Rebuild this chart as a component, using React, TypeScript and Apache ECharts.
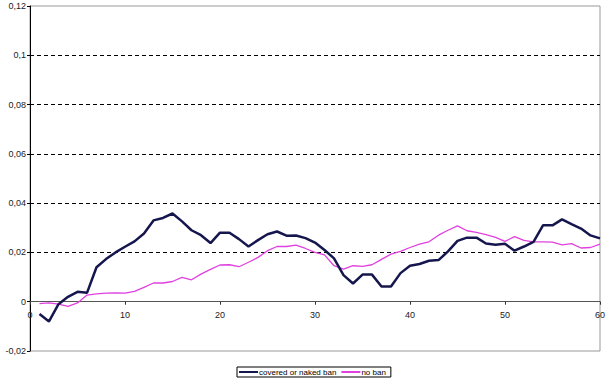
import React, { useEffect, useRef } from "react";
import * as echarts from "echarts";

const periods: number[] = Array.from({ length: 60 }, (_, i) => i + 1);

const coveredOrNakedBan: number[] = [
  -0.005, -0.008, -0.001, 0.002, 0.004, 0.0036, 0.014, 0.0173, 0.02, 0.0223,
  0.0245, 0.0277, 0.033, 0.034, 0.0358, 0.0326, 0.029, 0.027, 0.0238, 0.028,
  0.028, 0.0254, 0.0224, 0.025, 0.0274, 0.0285, 0.0268, 0.0269, 0.0258, 0.024,
  0.021, 0.0176, 0.0108, 0.0074, 0.011, 0.011, 0.0062, 0.0062, 0.0116, 0.0146,
  0.0153, 0.0166, 0.0169, 0.0204, 0.0247, 0.026, 0.026, 0.0236, 0.0231, 0.0235,
  0.0207, 0.0224, 0.0243, 0.031, 0.031, 0.0334, 0.0315, 0.0297, 0.0269, 0.0257,
];

const noBan: number[] = [
  -0.0008, -0.0005, -0.001, -0.0019, -0.0005, 0.0027, 0.0032, 0.0035, 0.0036, 0.0035,
  0.0042, 0.0058, 0.0076, 0.0076, 0.0082, 0.0099, 0.0089, 0.0112, 0.0131, 0.0149,
  0.015, 0.0142, 0.016, 0.018, 0.0207, 0.0224, 0.0224, 0.023, 0.0216, 0.02,
  0.019, 0.0146, 0.0132, 0.0146, 0.0143, 0.015, 0.0172, 0.0193, 0.0204, 0.022,
  0.0234, 0.0243, 0.027, 0.029, 0.0308, 0.0288, 0.0281, 0.0272, 0.0261, 0.0245,
  0.0264, 0.0249, 0.0243, 0.0243, 0.0242, 0.0231, 0.0236, 0.0218, 0.022, 0.0234,
];

const seriesNames: string[] = ["covered or naked ban", "no ban"];

const Y_MIN = -0.02;
const Y_MAX = 0.12;
const GRID_TOP = 6;
const GRID_BOTTOM = 35;
const HEIGHT = 386;

export default function App() {
  const ref = useRef<HTMLDivElement>(null);
  useEffect(() => {
    if (!ref.current) return;
    const chart = echarts.init(ref.current, undefined, { renderer: "svg" });
    const font = "Liberation Sans, Arial, sans-serif";
    const plotH = HEIGHT - GRID_TOP - GRID_BOTTOM;
    const zeroOffset = -((0 - Y_MIN) / (Y_MAX - Y_MIN)) * plotH;
    chart.setOption({
      animation: false,
      backgroundColor: "#ffffff",
      grid: {
        left: 30,
        right: 9,
        top: GRID_TOP,
        bottom: GRID_BOTTOM,
        show: true,
        borderColor: "#999999",
        borderWidth: 1,
        containLabel: false,
      },
      legend: {
        data: seriesNames.map((n) => ({ name: n, itemStyle: { opacity: 0 } })),
        left: 237,
        top: 367,
        padding: [1, 5, 1, 1],
        borderColor: "#000000",
        borderWidth: 1,
        itemWidth: 19,
        itemHeight: 8,
        itemGap: 4,
        textStyle: { fontSize: 8, fontFamily: font, color: "#000", padding: [0, 0, 0, -4] },
      },
      xAxis: {
        type: "value",
        position: "bottom",
        min: 0,
        max: 60,
        interval: 10,
        offset: zeroOffset,
        axisLine: { onZero: false, lineStyle: { color: "#555555", width: 1 } },
        axisTick: { show: true, length: 3, inside: false, lineStyle: { color: "#333" } },
        axisLabel: { fontSize: 9, fontFamily: font, color: "#222", margin: 9 },
        splitLine: { show: false },
      },
      yAxis: {
        type: "value",
        min: Y_MIN,
        max: Y_MAX,
        interval: 0.02,
        axisLine: { show: true, onZero: false, lineStyle: { color: "#000", width: 1 } },
        axisTick: { show: true, length: 3, lineStyle: { color: "#000" } },
        axisLabel: {
          fontSize: 9,
          fontFamily: font,
          color: "#222",
          margin: 4,
          formatter: (v: number) => parseFloat(v.toFixed(4)).toString().replace(".", ","),
        },
        splitLine: {
          show: true,
          lineStyle: {
            type: [4, 3],
            width: 1,
            color: [
              "rgba(0,0,0,0)",
              "rgba(0,0,0,0)",
              "#000",
              "#000",
              "#000",
              "#000",
              "#000",
              "rgba(0,0,0,0)",
            ],
          },
        },
      },
      series: [
        {
          name: seriesNames[0],
          type: "line",
          data: periods.map((p, i) => [p, coveredOrNakedBan[i]]),
          symbol: "none",
          lineStyle: { color: "#16164f", width: 2.5 },
          itemStyle: { color: "#16164f" },
          z: 3,
        },
        {
          name: seriesNames[1],
          type: "line",
          data: periods.map((p, i) => [p, noBan[i]]),
          symbol: "none",
          lineStyle: { color: "#e040e0", width: 1.3 },
          itemStyle: { color: "#e040e0" },
          z: 2,
        },
      ],
    });
    return () => chart.dispose();
  }, []);
  return (
    <div
      ref={ref}
      style={{ position: "fixed", left: 0, top: 0, width: 609, height: 386, background: "#fff" }}
    />
  );
}
